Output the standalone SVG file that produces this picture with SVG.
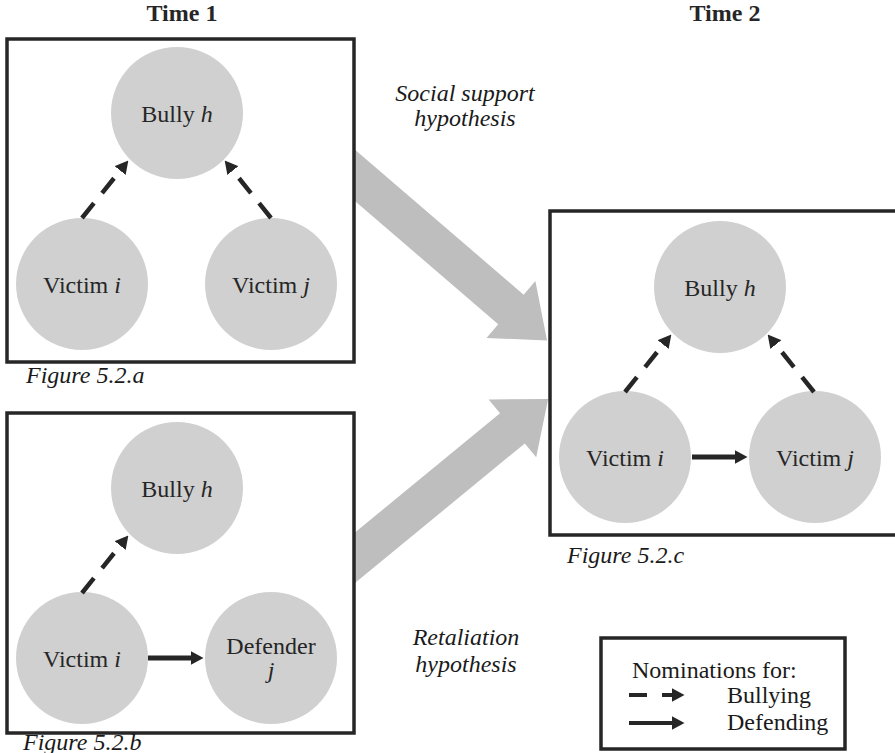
<svg xmlns="http://www.w3.org/2000/svg" width="895" height="753" viewBox="0 0 895 753">
<style>
.box{fill:#ffffff;stroke:#262626;stroke-width:3.5}
.node{fill:#d0d0d0}
.lbl{font-family:"Liberation Serif","Times New Roman",serif;font-size:24px;fill:#262626;text-anchor:middle}
.it{font-style:italic}
.ttl{font-family:"Liberation Serif","Times New Roman",serif;font-size:24px;font-weight:bold;fill:#262626;text-anchor:middle}
.cap{font-family:"Liberation Serif","Times New Roman",serif;font-size:24px;font-style:italic;fill:#1a1a1a}
.hyp{font-family:"Liberation Serif","Times New Roman",serif;font-size:24px;font-style:italic;fill:#1a1a1a;text-anchor:middle}
.leg{font-family:"Liberation Serif","Times New Roman",serif;font-size:24px;fill:#1a1a1a}
.dash{fill:none;stroke:#262626;stroke-width:4.5;stroke-dasharray:19 13;marker-end:url(#ah)}
.solid{fill:none;stroke:#262626;stroke-width:5;marker-end:url(#ah)}
.big{fill:#bebebe}
</style>
<defs>
<marker id="ah" markerUnits="userSpaceOnUse" markerWidth="13" markerHeight="14" viewBox="0 0 13 14" refX="0.5" refY="7" orient="auto">
<path d="M0,0 L13,7 L0,14 Z" fill="#262626"/>
</marker>
</defs>

<g id="transitions">
<path class="big" transform="translate(354,174.5) rotate(40.7)" d="M-40,-19.5 L207,-19.5 L207,-37.5 L254.6,0 L207,37.5 L207,19.5 L-40,19.5 Z"/>
<path class="big" transform="translate(354,558.5) rotate(-39.4)" d="M-40,-19.5 L205,-19.5 L205,-37.5 L251.2,0 L205,37.5 L205,19.5 L-40,19.5 Z"/>
</g>

<g id="panel-a">
<rect class="box" x="7" y="39" width="347" height="323"/>
<text class="ttl" x="182" y="21">Time 1</text>
<text class="cap" x="26" y="383">Figure 5.2.a</text>
</g>
<g id="panel-b">
<rect class="box" x="7" y="413" width="347" height="320"/>
<text class="cap" x="23" y="750">Figure 5.2.b</text>
</g>
<g id="panel-c">
<rect class="box" x="550" y="211" width="360" height="324"/>
<text class="ttl" x="725" y="21">Time 2</text>
<text class="cap" x="567" y="563">Figure 5.2.c</text>
</g>

<g id="a-bully"><circle class="node" cx="177" cy="113" r="66"/><text class="lbl" x="177" y="122">Bully <tspan class="it">h</tspan></text></g>
<g id="a-victim-i"><circle class="node" cx="82" cy="284" r="66"/><text class="lbl" x="82" y="293">Victim <tspan class="it">i</tspan></text></g>
<g id="a-victim-j"><circle class="node" cx="271" cy="284" r="66"/><text class="lbl" x="271" y="293">Victim <tspan class="it">j</tspan></text></g>

<g id="b-bully"><circle class="node" cx="177" cy="488" r="66"/><text class="lbl" x="177" y="497">Bully <tspan class="it">h</tspan></text></g>
<g id="b-victim-i"><circle class="node" cx="82" cy="658" r="66"/><text class="lbl" x="82" y="667">Victim <tspan class="it">i</tspan></text></g>
<g id="b-defender-j"><circle class="node" cx="271" cy="658" r="66"/><text class="lbl" x="271" y="654">Defender</text><text class="lbl it" x="271" y="678">j</text></g>

<g id="c-bully"><circle class="node" cx="720" cy="287" r="66"/><text class="lbl" x="720" y="296">Bully <tspan class="it">h</tspan></text></g>
<g id="c-victim-i"><circle class="node" cx="625" cy="457" r="66"/><text class="lbl" x="625" y="466">Victim <tspan class="it">i</tspan></text></g>
<g id="c-victim-j"><circle class="node" cx="815" cy="457" r="66"/><text class="lbl" x="815" y="466">Victim <tspan class="it">j</tspan></text></g>

<g id="connectors">
<path class="dash" d="M82,218 L120.5,170.2"/>
<path class="dash" d="M271,218 L232.5,170.2"/>
<path class="dash" d="M82,593 L120.5,545.2"/>
<path class="solid" d="M148,658 L191,658"/>
<path class="dash" d="M625,392 L663.5,344.2"/>
<path class="dash" d="M814,392 L775.5,344.2"/>
<path class="solid" d="M692,457 L735,457"/>
</g>

<g id="hypothesis-labels">
<text class="hyp" x="465" y="101">Social support</text>
<text class="hyp" x="465" y="126">hypothesis</text>
<text class="hyp" x="466" y="645">Retaliation</text>
<text class="hyp" x="466" y="672">hypothesis</text>
</g>

<g id="legend">
<rect class="box" x="601" y="638" width="244" height="111"/>
<text class="leg" x="632" y="678">Nominations for:</text>
<path d="M629,695 L672,695" fill="none" stroke="#262626" stroke-width="4" stroke-dasharray="18 15" marker-end="url(#ah)"/>
<text class="leg" x="727" y="703">Bullying</text>
<path d="M629,723 L672,723" fill="none" stroke="#262626" stroke-width="4" marker-end="url(#ah)"/>
<text class="leg" x="727" y="730">Defending</text>
</g>
</svg>
